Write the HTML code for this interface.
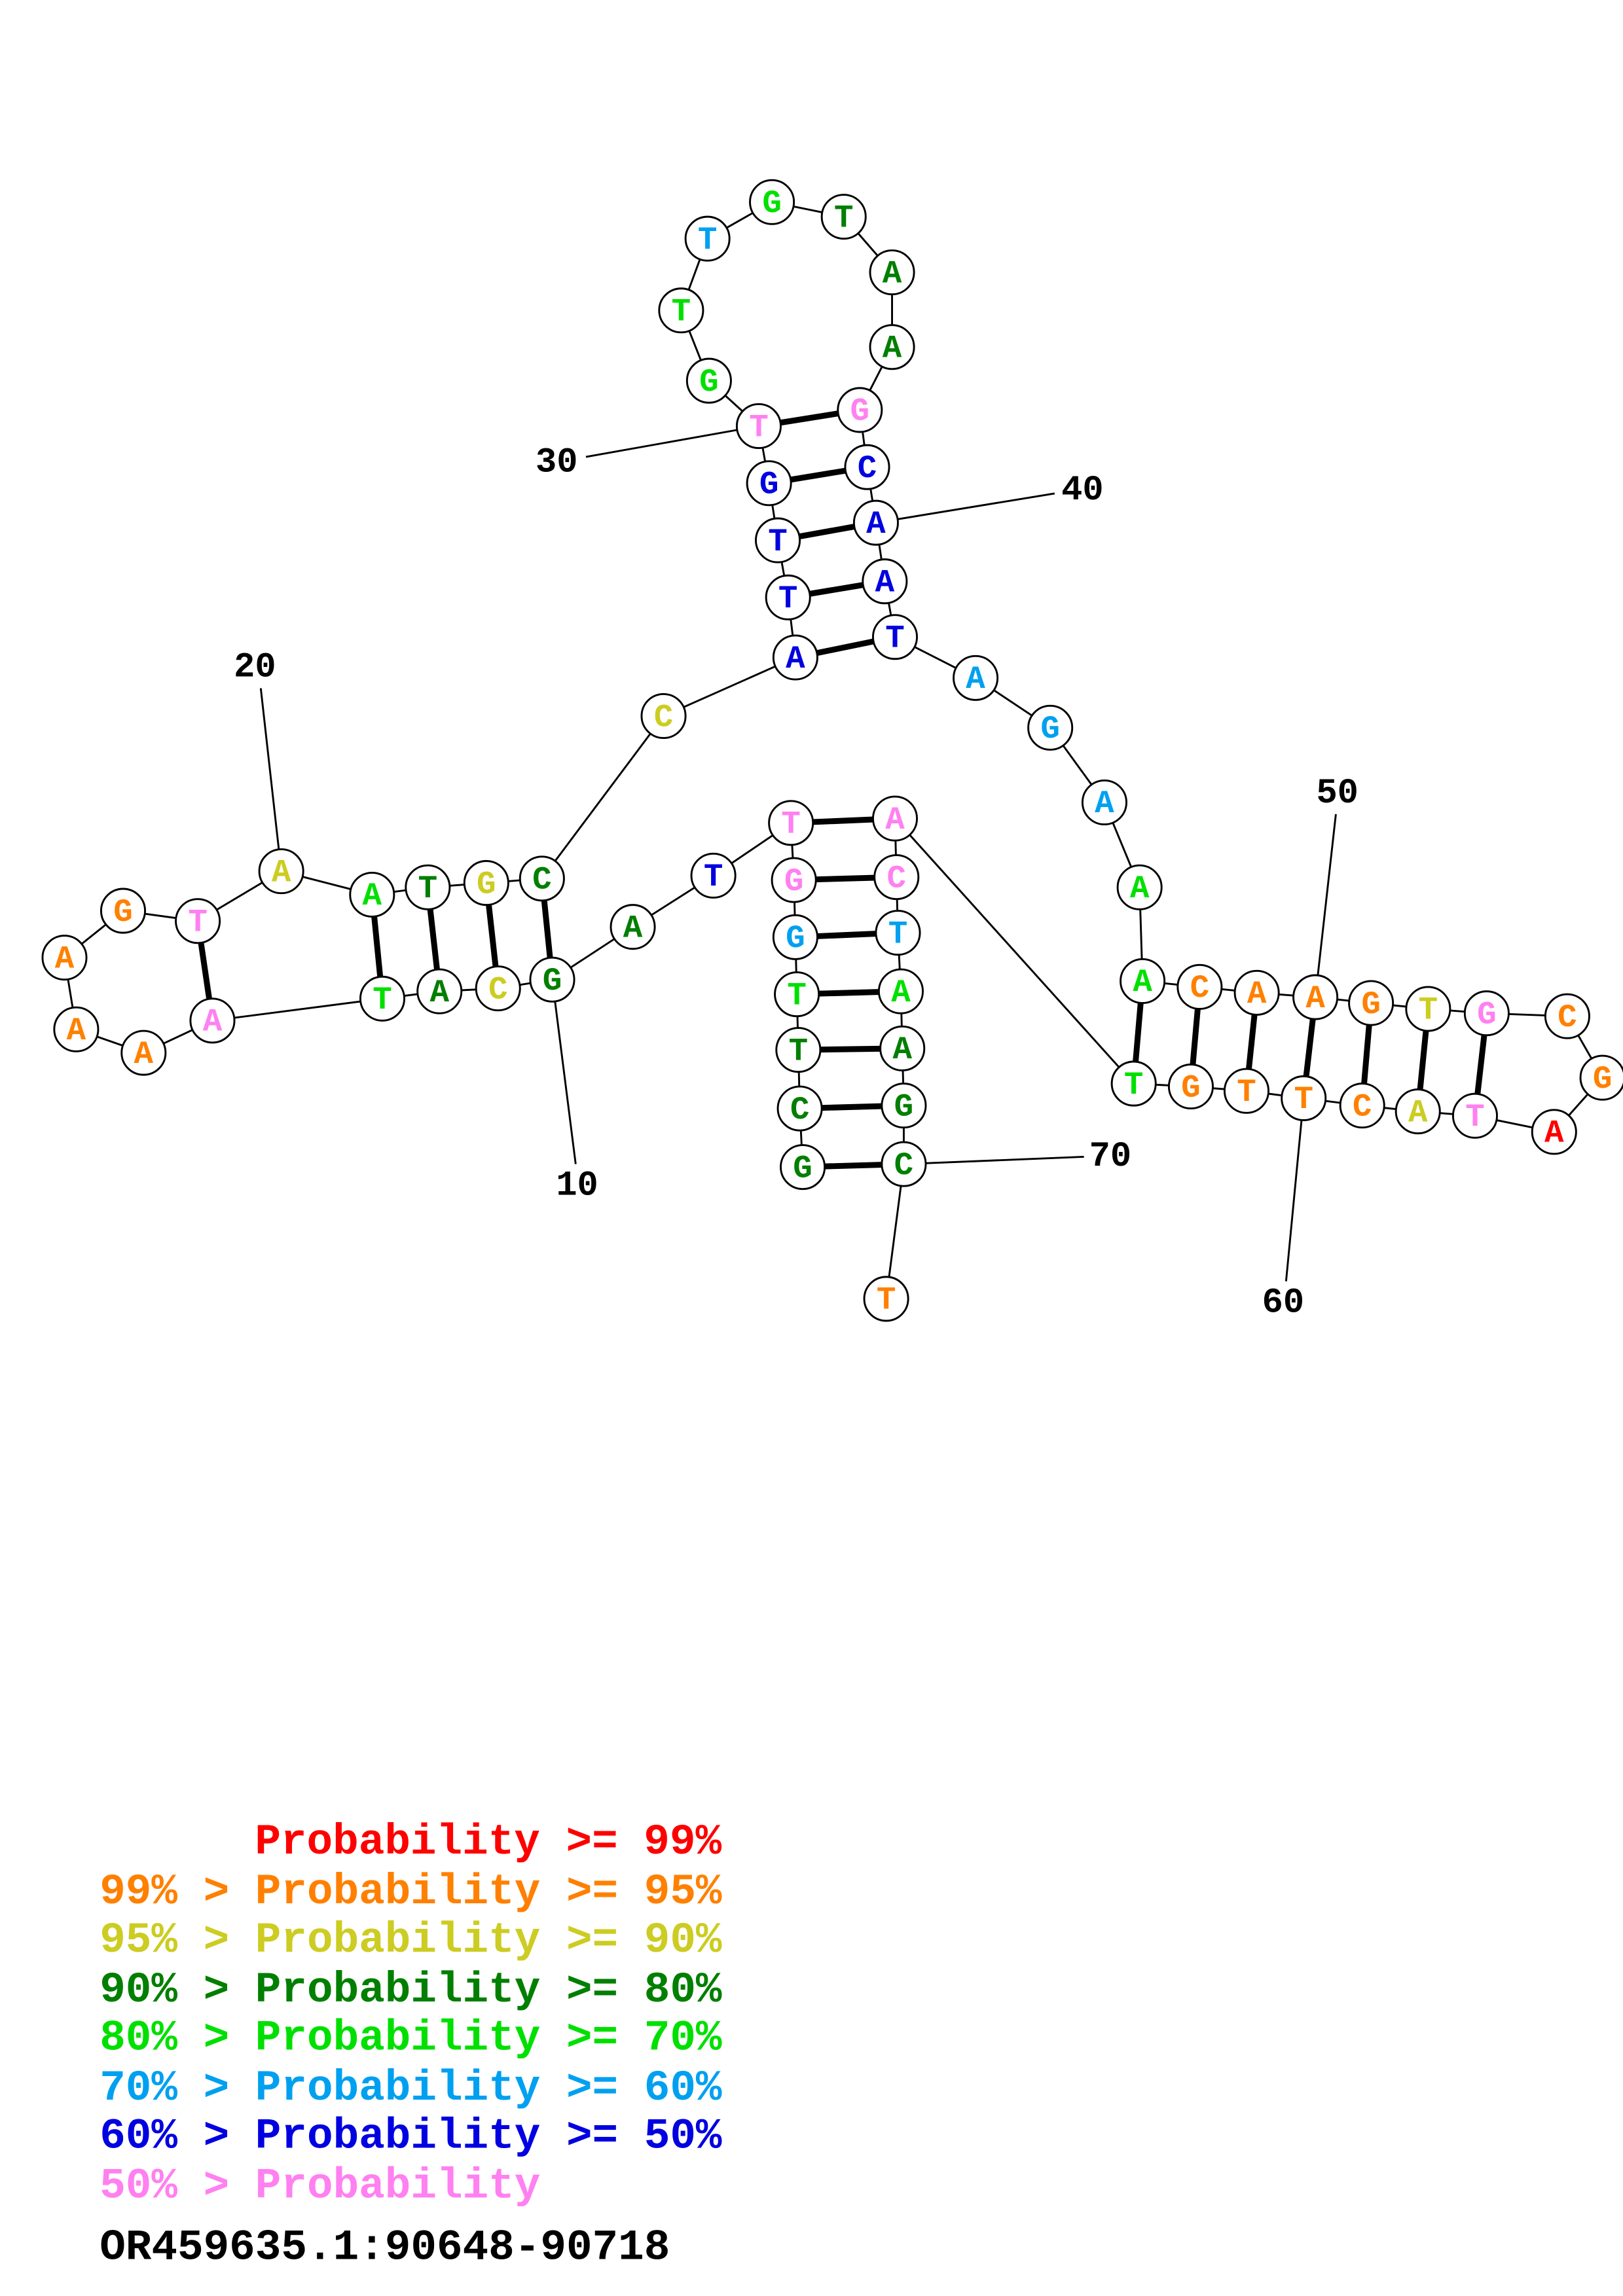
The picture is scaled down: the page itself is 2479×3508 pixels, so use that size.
<!DOCTYPE html>
<html><head><meta charset="utf-8"><style>
html,body{margin:0;padding:0;background:#fff}
svg{display:block}
.n{font-family:"Liberation Mono",monospace;font-weight:bold;font-size:22px}
.l{font-family:"Liberation Mono",monospace;font-weight:bold;font-size:29.5px;white-space:pre}
.k{font-family:"Liberation Mono",monospace;font-weight:bold;font-size:24px;fill:#000}
</style></head><body>
<svg id="s" width="2479" height="3508" viewBox="0 0 1108 1568" xmlns="http://www.w3.org/2000/svg">
<g stroke="#000" stroke-width="1.3">
<line x1="377" y1="669" x2="393" y2="795"/>
<line x1="192" y1="595" x2="178" y2="470"/>
<line x1="518" y1="291" x2="400" y2="312"/>
<line x1="598" y1="357" x2="720" y2="337"/>
<line x1="898" y1="681" x2="912" y2="556"/>
<line x1="890" y1="750" x2="878" y2="875"/>
<line x1="617" y1="795" x2="740" y2="790"/>
</g>
<g id="lines" stroke="#000" fill="none"></g>
<g id="nodes"></g>
<g class="k" text-anchor="middle" dominant-baseline="central">
<text x="394" y="810">10</text>
<text x="174" y="456">20</text>
<text x="380" y="316">30</text>
<text x="739" y="335">40</text>
<text x="913" y="542">50</text>
<text x="876" y="890">60</text>
<text x="758" y="790">70</text>
</g>
<g class="l" dominant-baseline="central">
<text x="174" y="1258" fill="#ff0000">Probability &gt;= 99%</text>
<text x="68" y="1292" fill="#ff8000">99% &gt; Probability &gt;= 95%</text>
<text x="68" y="1325" fill="#cccc22">95% &gt; Probability &gt;= 90%</text>
<text x="68" y="1359" fill="#007f00">90% &gt; Probability &gt;= 80%</text>
<text x="68" y="1392" fill="#00e000">80% &gt; Probability &gt;= 70%</text>
<text x="68" y="1426" fill="#00a0f0">70% &gt; Probability &gt;= 60%</text>
<text x="68" y="1459" fill="#0000e0">60% &gt; Probability &gt;= 50%</text>
<text x="68" y="1493" fill="#ff80f0">50% &gt; Probability</text>
<text x="68" y="1535" fill="#000">OR459635.1:90648-90718</text>
</g>
</svg>
<script>
var N=[[548,797,'G','d'],[546,757,'C','d'],[545,717,'T','d'],[544,679,'T','g'],[543,640,'G','s'],[542,601,'G','p'],[540,562,'T','p'],[487,598,'T','b'],[432,633,'A','d'],[377,669,'G','d'],
[340,675,'C','y'],[300,677,'A','d'],[261,682,'T','g'],[145,697,'A','p'],[98,719,'A','o'],[52,703,'A','o'],[44,654,'A','o'],[84,622,'G','o'],[135,629,'T','p'],[192,595,'A','y'],
[254,611,'A','g'],[292,606,'T','d'],[332,603,'G','y'],[370,600,'C','d'],[453,489,'C','y'],[543,449,'A','b'],[538,408,'T','b'],[531,369,'T','b'],[525,330,'G','b'],[518,291,'T','p'],
[484,260,'G','g'],[465,212,'T','g'],[483,163,'T','s'],[527,138,'G','g'],[576,148,'T','d'],[609,186,'A','d'],[609,237,'A','d'],[587,280,'G','p'],[592,319,'C','b'],[598,357,'A','b'],
[604,397,'A','b'],[611,435,'T','b'],[666,463,'A','s'],[717,497,'G','s'],[754,548,'A','s'],[778,606,'A','g'],[780,670,'A','g'],[819,674,'C','o'],[858,678,'A','o'],[898,681,'A','o'],
[936,685,'G','o'],[975,689,'T','y'],[1015,692,'G','p'],[1070,694,'C','o'],[1094,736,'G','o'],[1061,773,'A','r'],[1007,762,'T','p'],[968,759,'A','y'],[930,755,'C','o'],[890,750,'T','o'],
[851,745,'T','o'],[813,742,'G','o'],[774,740,'T','g'],[611,559,'A','p'],[612,599,'C','p'],[613,637,'T','s'],[615,677,'A','g'],[616,716,'A','d'],[617,755,'G','d'],[617,795,'C','d'],[605,887,'T','o']];
var C={r:'#ff0000',o:'#ff8000',y:'#cccc22',d:'#007f00',g:'#00e000',s:'#00a0f0',b:'#0000e0',p:'#ff80f0'};
var P=[[1,70],[2,69],[3,68],[4,67],[5,66],[6,65],[7,64],[10,24],[11,23],[12,22],[13,21],[14,19],[26,42],[27,41],[28,40],[29,39],[30,38],[47,63],[48,62],[49,61],[50,60],[51,59],[52,58],[53,57]];
var ns='http://www.w3.org/2000/svg',L=document.getElementById('lines'),G=document.getElementById('nodes');
function ln(a,b,w){var e=document.createElementNS(ns,'line');e.setAttribute('x1',a[0]);e.setAttribute('y1',a[1]);e.setAttribute('x2',b[0]);e.setAttribute('y2',b[1]);e.setAttribute('stroke-width',w);L.appendChild(e);}
for(var i=0;i<N.length-1;i++)ln(N[i],N[i+1],1.3);
P.forEach(function(p){ln(N[p[0]-1],N[p[1]-1],4);});
N.forEach(function(n){var c=document.createElementNS(ns,'circle');c.setAttribute('cx',n[0]);c.setAttribute('cy',n[1]);c.setAttribute('r',15);c.setAttribute('fill','#fff');c.setAttribute('stroke','#000');c.setAttribute('stroke-width',1.3);G.appendChild(c);
var t=document.createElementNS(ns,'text');t.setAttribute('x',n[0]);t.setAttribute('y',n[1]+1);t.setAttribute('class','n');t.setAttribute('text-anchor','middle');t.setAttribute('dominant-baseline','central');t.setAttribute('fill',C[n[3]]);t.textContent=n[2];G.appendChild(t);});
</script>
</body></html>
